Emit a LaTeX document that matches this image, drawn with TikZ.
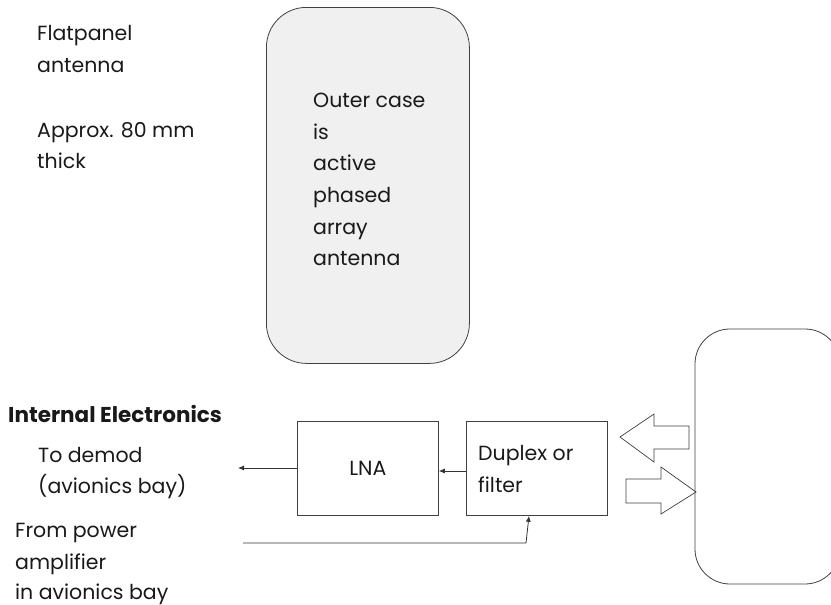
\documentclass[tikz,border=0pt]{standalone}
\usepackage{fontspec}
\setmainfont{Poppins}
\usetikzlibrary{arrows.meta}
\begin{document}
\begin{tikzpicture}[x=1pt,y=-1pt,
  lbl/.style={anchor=base west, inner sep=0pt, font=\fontsize{20.5}{20.5}\selectfont, text=black!90},
  boldlbl/.style={lbl, font=\fontsize{21.5}{21.5}\selectfont\bfseries},
  box/.style={draw=black!75, line width=0.8pt, inner sep=0pt},
  conn/.style={draw=black!80, line width=0.8pt, -{Latex[length=6pt,width=5pt]}},
  blockarrow/.style={draw=black!75, line width=0.7pt, fill=white}]
\useasboundingbox (0,0) rectangle (831,605);

% antenna case
\node[box, fill=black!6, rounded corners=40pt, minimum width=203pt, minimum height=356pt, anchor=north west] (case) at (266,7) {};
\node[lbl] (c1) at (313,107) {Outer case};
\node[lbl] (c2) at (313,139) {is};
\node[lbl] (c3) at (313,170) {active};
\node[lbl] (c4) at (313,202) {phased};
\node[lbl] (c5) at (313,234) {array};
\node[lbl] (c6) at (313,265) {antenna};

% left notes
\node[lbl] (f1) at (37,40) {Flatpanel};
\node[lbl] (f2) at (37,72) {antenna};
\node[lbl] (f3) at (37,137) {Approx. 80 mm};
\node[lbl] (f4) at (37,168) {thick};

\node[boldlbl] (ie) at (8,422) {Internal Electronics};
\node[lbl] (d1) at (38,462) {To demod};
\node[lbl] (d2) at (38,493) {(avionics bay)};
\node[lbl] (p1) at (15,537) {From power};
\node[lbl] (p2) at (15,569) {amplifier};
\node[lbl] (p3) at (15,599) {in avionics bay};

% boxes
\node[box, minimum width=141pt, minimum height=94pt, anchor=north west] (lna) at (297,421) {};
\node[lbl, anchor=center] (lnat) at (lna.center) {LNA};
\node[box, minimum width=141pt, minimum height=94pt, anchor=north west] (dup) at (466,421) {};
\node[lbl] (dup1) at (478,460) {Duplex or};
\node[lbl] (dup2) at (478,492) {filter};

% connectors
\coordinate (demod) at (238,468);
\coordinate (pa) at (243,543);
\coordinate (bend) at (526,543);
\draw[conn] (dup.west |- 0,471) -- (lna.east |- 0,471);
\draw[conn] (lna.west |- 0,468) -- (demod);
\draw[conn] (pa) -- (bend) -- (dup.south -| 529,0);

% block arrows
\draw[blockarrow] (689,426) -- (654,426) -- (654,414) -- (620,437) -- (654,462) -- (654,449) -- (689,449) -- cycle;
\draw[blockarrow] (626,479) -- (661,479) -- (661,467) -- (696,492) -- (661,514) -- (661,503) -- (626,503) -- cycle;

% cabin/aircraft box (cut by edge)
\begin{scope}
\clip (0,0) rectangle (831,605);
\draw[draw=black!75, line width=0.8pt, rounded corners=35pt] (695,329) rectangle (840,584);
\end{scope}
\end{tikzpicture}
\end{document}
